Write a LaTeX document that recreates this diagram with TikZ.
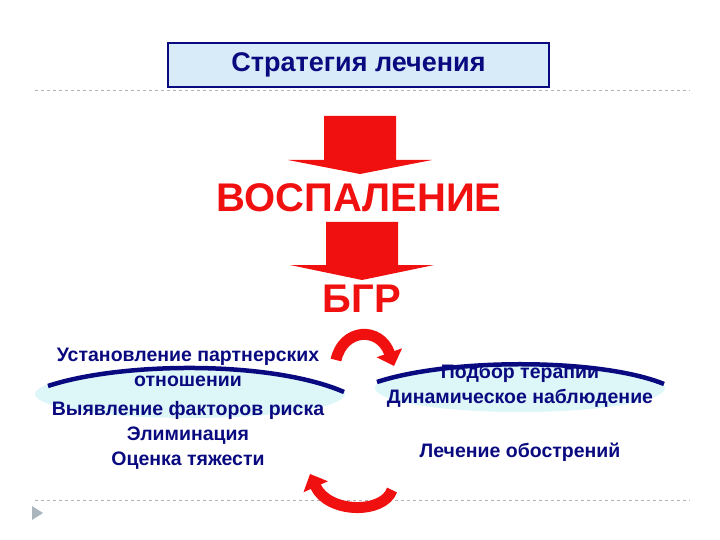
\documentclass[tikz,border=0pt]{standalone}
\usepackage{fontspec}
\setmainfont{Liberation Sans}
\usetikzlibrary{arrows.meta}
\definecolor{navy}{HTML}{0A0A80}
\definecolor{lblue}{HTML}{D7ECF8}
\definecolor{cyanf}{HTML}{DDF6F8}
\definecolor{rd}{HTML}{F01010}
\tikzset{txt/.style={font=\bfseries\fontsize{19.5}{22}\selectfont,text=navy,inner sep=0pt},
 big/.style={font=\bfseries\fontsize{40}{44}\selectfont,text=rd,inner sep=0pt},
 dline/.style={gray!60,dashed,line width=0.6pt},
 rarr/.style={rd,line width=11pt,-{Triangle[length=14pt,width=26pt]}}}
\begin{document}
\begin{tikzpicture}[x=1pt,y=-1pt]
\useasboundingbox (0,0) rectangle (720,540);
\draw[dline] (35,90) -- (690,90);
\draw[dline] (35,500) -- (690,500);
\fill[gray!50!lblue] (32,506) -- (43,513) -- (32,520) -- cycle;
\node[draw=navy,line width=2pt,fill=lblue,minimum width=381pt,minimum height=44pt,inner sep=0pt,
 font=\bfseries\fontsize{27}{30}\selectfont,text=navy] (title) at (358.5,65) {Стратегия лечения};
% arrows
\fill[rd] (324,116) -- (396,116) -- (396,160) -- (432,160) -- (360,174) -- (288,160) -- (324,160) -- cycle;
\fill[rd] (326,222) -- (398,222) -- (398,265) -- (434,265) -- (362,280) -- (290,265) -- (326,265) -- cycle;
\node[big] (v) at (359,198) {ВОСПАЛЕНИЕ};
\node[big] (b) at (362,299) {БГР};
% ellipses
\fill[cyanf] (190,394) ellipse (155pt and 24pt);
\fill[cyanf] (520,388) ellipse (145pt and 24pt);
\draw[navy,line width=4.5pt] (48,386) .. controls (120,362) and (270,360) .. (344,392);
% text
\node[txt] (l1) at (188,357) {Установление партнерских};
\node[txt] (l2) at (188,381) {отношении};
\node[txt] (l3) at (188,410) {Выявление факторов риска};
\node[txt] (l4) at (188,436) {Элиминация};
\node[txt] (l5) at (188,461) {Оценка тяжести};
\node[txt] (r1) at (520,373) {Подбор терапии};
\node[txt] (r2) at (520,398) {Динамическое наблюдение};
\node[txt] (r3) at (520,452) {Лечение обострений};
\draw[navy,line width=4.5pt] (377,382) .. controls (450,358) and (600,358) .. (664,384);
% curved arrows
\coordinate (a1) at (336,360);
\coordinate (a2) at (394,366);
\draw[rarr] (a1) .. controls (343,328) and (380,326) .. (a2);
\coordinate (b1) at (392,490);
\coordinate (b2) at (310,474);
\draw[rarr] (b1) .. controls (384,514) and (328,514) .. (b2);
\end{tikzpicture}
\end{document}
